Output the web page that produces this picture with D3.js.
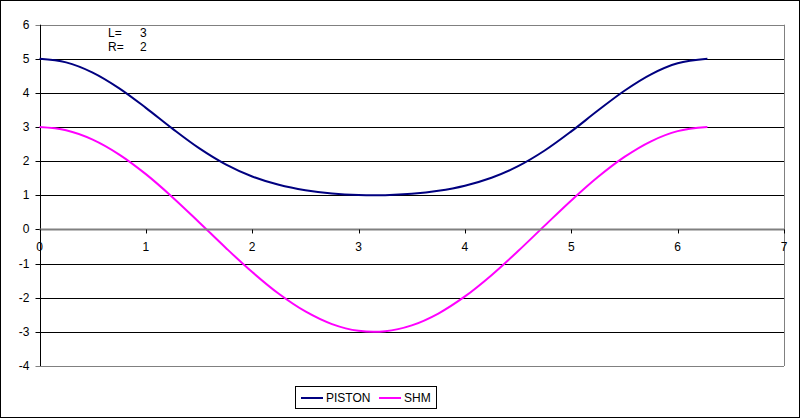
<!DOCTYPE html>
<html><head><meta charset="utf-8">
<script src="https://cdn.jsdelivr.net/npm/d3@7"></script>
<style>body{margin:0;background:#fff}svg{display:block}text{font-family:"Liberation Sans",Arial,sans-serif}</style>
</head><body>
<svg id="c" width="800" height="418"></svg>
<script>
const theta = [0,0.25,0.5,0.75,1,1.25,1.5,1.75,2,2.25,2.5,2.75,3,3.25,3.5,3.75,4,4.25,4.5,4.75,5,5.25,5.5,5.75,6,6.28];
const piston = [5,4.897,4.598,4.136,3.564,2.954,2.382,1.908,1.554,1.308,1.149,1.053,1.007,1.004,1.044,1.133,1.283,1.515,1.854,2.313,2.874,3.484,4.065,4.545,4.868,5.0];
const shm = [3,2.907,2.633,2.195,1.621,0.946,0.212,-0.535,-1.248,-1.885,-2.403,-2.773,-2.970,-2.982,-2.809,-2.462,-1.961,-1.338,-0.632,0.113,0.851,1.536,2.126,2.584,2.881,3.0];
const xTicks = [0,1,2,3,4,5,6,7];
const yTicks = [-4,-3,-2,-1,0,1,2,3,4,5,6];
const seriesNames = ["PISTON","SHM"];
const params = [["L=","3"],["R=","2"]];

const svg = d3.select("#c");
const L = 39.5, R = 784, T = 24.7, B = 366;
const x = d3.scaleLinear().domain([0,7]).range([L,R]);
const y = d3.scaleLinear().domain([-4,6]).range([B,T]);

svg.append("rect").attr("x",0.5).attr("y",0.5).attr("width",799).attr("height",417).attr("fill","#fff").attr("stroke","#000");

// gridlines
svg.append("g").selectAll("line").data(yTicks).join("line")
  .attr("x1",L-4).attr("x2",R).attr("y1",d=>Math.round(y(d))+0.5).attr("y2",d=>Math.round(y(d))+0.5)
  .attr("stroke",d=>(d===6||d===-4)?"#808080":"#000").attr("stroke-width",1);
// right border
svg.append("line").attr("x1",Math.round(R)+0.5).attr("x2",Math.round(R)+0.5).attr("y1",y(6)).attr("y2",y(-4)).attr("stroke","#808080");
// y axis
svg.append("line").attr("x1",Math.round(L)+0.5).attr("x2",Math.round(L)+0.5).attr("y1",y(6)).attr("y2",y(-4)).attr("stroke","#000");
// y labels
svg.append("g").selectAll("text").data(yTicks).join("text")
  .attr("x",L-10).attr("y",d=>y(d)+4).attr("text-anchor","end").attr("font-size",12).attr("fill","#000").text(d=>d);

// series
const line = d3.line().curve(d3.curveCatmullRom.alpha(0.5));
const data = [piston, shm];
const colors = ["#000080","#ff00ff"];
data.forEach((vals,i)=>{
  svg.append("path").attr("d",line(theta.map((t,j)=>[x(t),y(vals[j])])))
    .attr("fill","none").attr("stroke",colors[i]).attr("stroke-width",2);
});

// x axis at 0
const y0 = y(0);
svg.append("line").attr("x1",L).attr("x2",R).attr("y1",y0).attr("y2",y0).attr("stroke","#808080").attr("stroke-width",2);
svg.append("g").selectAll("line").data(xTicks).join("line")
  .attr("x1",d=>Math.round(x(d))+0.5).attr("x2",d=>Math.round(x(d))+0.5).attr("y1",y0).attr("y2",y0+4).attr("stroke","#000");
svg.append("g").selectAll("text").data(xTicks).join("text")
  .attr("x",d=>x(d)).attr("y",y0+22).attr("text-anchor","middle").attr("font-size",12).attr("fill","#000").text(d=>d);

// params text
params.forEach((p,i)=>{
  svg.append("text").attr("x",108).attr("y",37+i*14).attr("font-size",12).text(p[0]);
  svg.append("text").attr("x",140).attr("y",37+i*14).attr("font-size",12).text(p[1]);
});

// legend
const lg = svg.append("g");
lg.append("rect").attr("x",295.5).attr("y",386.5).attr("width",141).attr("height",22).attr("fill","#fff").attr("stroke","#000");
const lx = [301,379];
seriesNames.forEach((n,i)=>{
  lg.append("line").attr("x1",lx[i]).attr("x2",lx[i]+22).attr("y1",398).attr("y2",398).attr("stroke",colors[i]).attr("stroke-width",2);
  lg.append("text").attr("x",lx[i]+25).attr("y",402).attr("font-size",12).text(n);
});
</script>
</body></html>
